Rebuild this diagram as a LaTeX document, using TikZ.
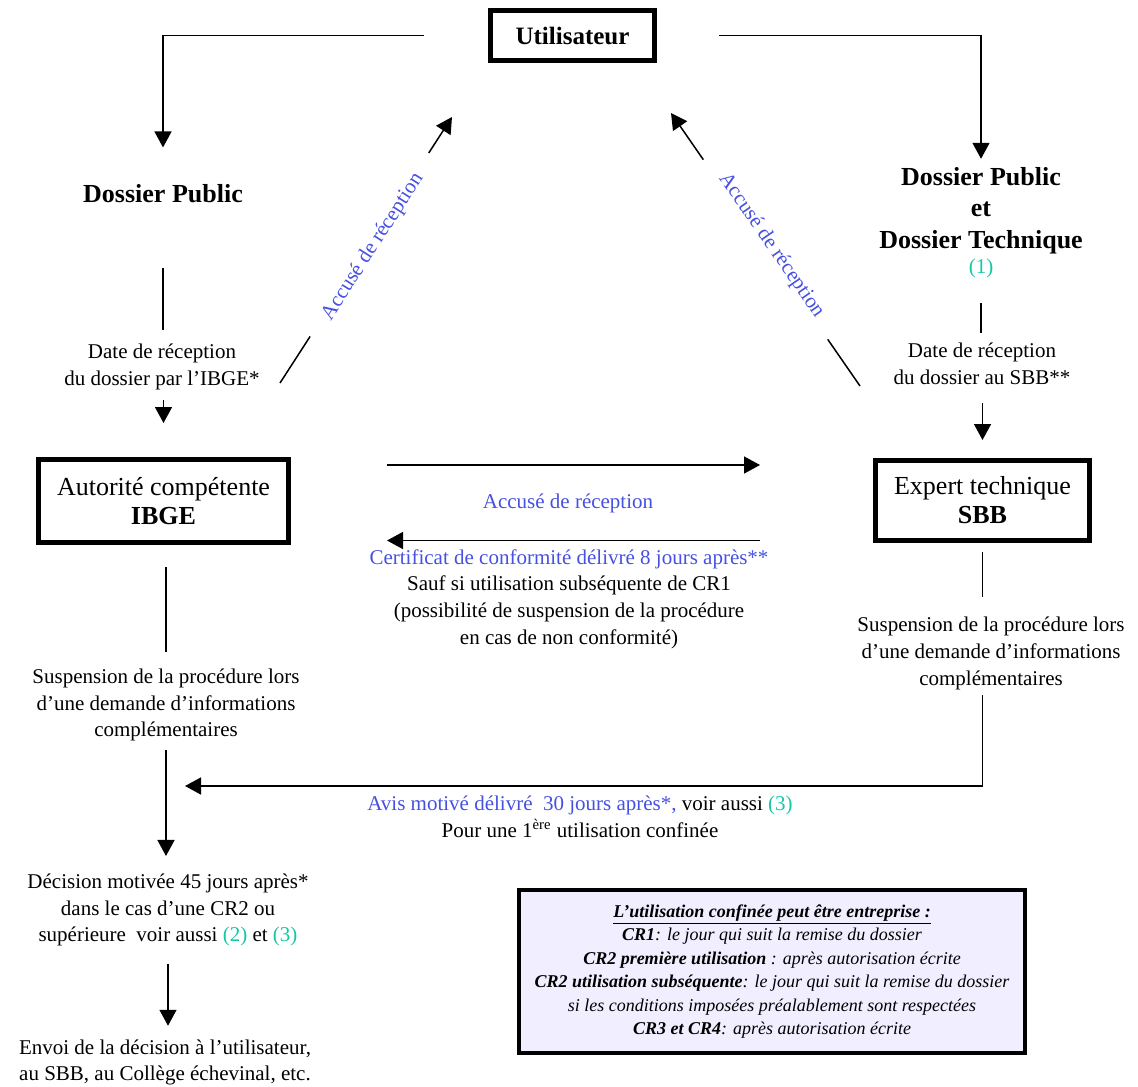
\documentclass[tikz,border=0pt]{standalone}
\usepackage{fontspec}
\setmainfont{Liberation Serif}
\usetikzlibrary{arrows.meta}

\definecolor{accblue}{RGB}{70,80,225}
\definecolor{refgreen}{RGB}{20,200,165}
\definecolor{legendfill}{RGB}{241,239,255}

\newcommand{\refmark}[1]{\textcolor{refgreen}{#1}}

\tikzset{
    body/.style = {align = center, inner sep = 0pt, font = \fontsize{10.5}{13.3}\selectfont},
    heading/.style = {align = center, inner sep = 0pt, font = \fontsize{13}{15.75}\selectfont\bfseries},
    actor/.style = {draw, line width = 2.5pt, align = center, inner sep = 0pt, font = \fontsize{13}{14.5}\selectfont},
    wire/.style = {line width = 0.75pt},
    arrowline/.style = {wire, -{Triangle[width = 8.5pt, length = 8pt]}},
    receipt/.style = {sloped, fill = white, text = accblue, inner xsep = 12pt, inner ysep = 1pt, font = \fontsize{10.5}{13.3}\selectfont},
}

\begin{document}
\begin{tikzpicture}[x = 0.5pt, y = -0.5pt]
    \useasboundingbox (0,0) rectangle (1138,1086);

    % The three actors (thick boxes)
    \node [actor, minimum width = 82pt, minimum height = 25pt, font = \fontsize{12.5}{14}\selectfont\bfseries] (user) at (572.5,35.5) {Utilisateur};
    \node [actor, minimum width = 125pt, minimum height = 41.5pt] (ibge) at (163.5,501) {Autorité compétente\\\textbf{IBGE}};
    \node [actor, minimum width = 107pt, minimum height = 40pt] (sbb) at (982.5,500.5) {Expert technique\\\textbf{SBB}};

    % Left column
    \node [heading] (pubL) at (163,194) {Dossier Public};
    \node [body] (dateL) at (162,367) {Date de réception\\du dossier par l'IBGE*};
    \node [body] (suspL) at (166,705) {Suspension de la procédure lors\\d'une demande d'informations\\complémentaires};
    \node [body] (decision) at (168,910) {Décision motivée 45 jours après*\\dans le cas d'une CR2 ou\\supérieure\ \ voir aussi \refmark{(2)} et \refmark{(3)}};
    \node [body] (envoi) at (165,1062.5) {Envoi de la décision à l'utilisateur,\\au SBB, au Collège échevinal, etc.};

    % Right column
    \node [heading] (pubR) at (981,210.5) {Dossier Public\\et\\Dossier Technique};
    \node [body, text = refgreen] (refR) at (981,268) {(1)};
    \node [body] (dateR) at (982,364) {Date de réception\\du dossier au SBB**};
    \node [body] (suspR) at (991,653.5) {Suspension de la procédure lors\\d'une demande d'informations\\complémentaires};

    % Texts between the columns
    \node [body, text = accblue] (accM) at (568,503) {Accusé de réception};
    \node [body] (cert) at (569,599) {\textcolor{accblue}{Certificat de conformité délivré 8 jours après**}\\Sauf si utilisation subséquente de CR1\\(possibilité de suspension de la procédure\\en cas de non conformité)};
    \node [body] (avis) at (580,817) {\textcolor{accblue}{Avis motivé délivré\ \ 30 jours après*,} voir aussi \refmark{(3)}\\Pour une 1\textsuperscript{ère} utilisation confinée};

    % Legend
    \node [draw, line width = 2pt, fill = legendfill, minimum width = 253pt, minimum height = 81.5pt, align = center, inner sep = 0pt, font = \fontsize{9}{11.75}\selectfont\itshape] (legend) at (772,971.5) {\textbf{\underline{L'utilisation confinée peut être entreprise :}}\\
        \textbf{CR1}: le jour qui suit la remise du dossier\\
        \textbf{CR2 première utilisation} : après autorisation écrite\\
        \textbf{CR2 utilisation subséquente}: le jour qui suit la remise du dossier\\
        si les conditions imposées préalablement sont respectées\\
        \textbf{CR3 et CR4}: après autorisation écrite};

    % Utilisateur sends the files
    \draw [arrowline, shorten <= 32pt, shorten >= 18.5pt] (user.west) -| (pubL.north);
    \draw [arrowline, shorten <= 31pt, shorten >= 4pt] (user.east) -| (pubR.north);

    % Down the left column
    \draw [wire, shorten <= 32pt, shorten >= 7pt] (pubL.south) -- (pubL.south |- dateL.north);
    \draw [arrowline, shorten <= 5pt, shorten >= 17pt] (ibge.north |- dateL.south) -- (ibge.north);
    \draw [wire, shorten <= 11pt, shorten >= 8.25pt] (suspL.north |- ibge.south) -- (suspL.north);
    \draw [arrowline, shorten <= 4pt, shorten >= 8.75pt] (suspL.south) -- (suspL.south |- decision.north);
    \draw [arrowline, shorten <= 8.5pt, shorten >= 6.75pt] (decision.south) -- (decision.south |- envoi.north);

    % Down the right column
    \draw [wire, shorten <= 12.5pt, shorten >= 4.75pt] (refR.south) -- (refR.south |- dateR.north);
    \draw [arrowline, shorten <= 9pt, shorten >= 9pt] (sbb.north |- dateR.south) -- (sbb.north);
    \draw [wire, shorten <= 4.5pt, shorten >= 9.75pt] (sbb.south) -- (sbb.south |- suspR.north);

    % Avis motive back to the left column
    \coordinate (bend) at (982.5,786);
    \coordinate (hit) at (167,786);
    \draw [arrowline, shorten <= 2.7pt, shorten >= 9pt] (sbb.south |- suspR.south) -- (bend) -- (hit);

    % Between IBGE and SBB
    \coordinate (fwd) at ([yshift = 18pt] ibge.east);
    \coordinate (back) at ([yshift = -20pt] sbb.west);
    \draw [arrowline, shorten <= 48pt, shorten >= 56.5pt] (fwd) -- (fwd -| sbb.west);
    \draw [arrowline, shorten <= 56.5pt, shorten >= 48pt] (back) -- (back -| ibge.east);

    % Receipts back to Utilisateur
    \coordinate (dl1) at (280,383);
    \coordinate (dl2) at (452,117);
    \coordinate (dr1) at (860,386);
    \coordinate (dr2) at (671,113);
    \foreach \from/\to/\where/\nudge in {dl1/dl2/0.52/-2pt, dr1/dr2/0.5/3.5pt} {
        \draw [arrowline] (\from) -- node [receipt, pos = \where, yshift = \nudge] {Accusé de réception} (\to);
    }
\end{tikzpicture}
\end{document}
